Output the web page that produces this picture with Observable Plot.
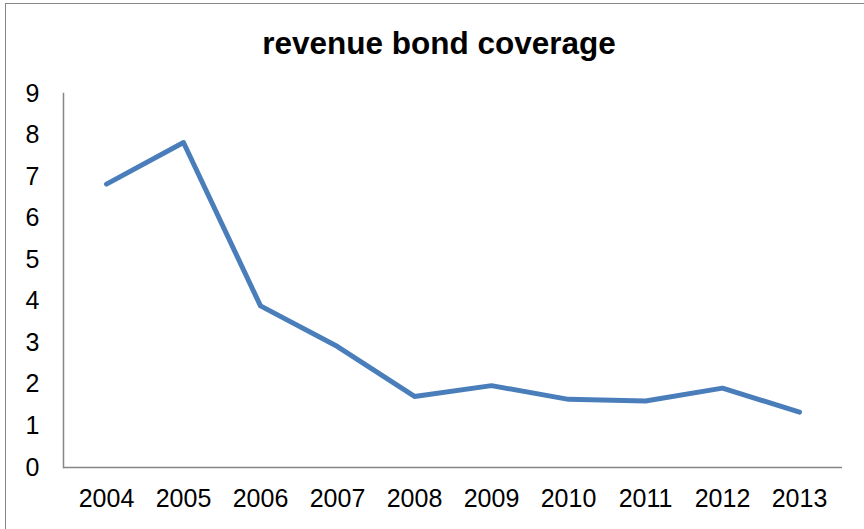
<!DOCTYPE html>
<html>
<head>
<meta charset="utf-8">
<script src="https://cdn.jsdelivr.net/npm/d3@7"></script>
<script src="https://cdn.jsdelivr.net/npm/@observablehq/plot@0.6"></script>
<style>
  html, body { margin: 0; padding: 0; background: #fff; }
  #wrap { position: relative; width: 864px; height: 529px; overflow: hidden; }
  #border { position: absolute; left: 5px; top: 3px; width: 900px; height: 600px;
            border-left: 1.5px solid #868686; border-top: 1.5px solid #868686; box-sizing: border-box; }
  #chart { position: absolute; left: 0; top: 0; }
</style>
</head>
<body>
<div id="wrap"><div id="border"></div><div id="chart"></div></div>
<script>
const title = "revenue bond coverage";
const years = ["2004","2005","2006","2007","2008","2009","2010","2011","2012","2013"];
const coverage = [6.82, 7.82, 3.89, 2.91, 1.71, 1.97, 1.64, 1.60, 1.91, 1.33];
const yTicks = [0,1,2,3,4,5,6,7,8,9];

const data = years.map((year, i) => ({year, value: coverage[i]}));

const chart = Plot.plot({
  width: 864,
  height: 529,
  marginLeft: 63,
  marginRight: 22,
  marginTop: 93,
  marginBottom: 62,
  style: {fontFamily: "'Liberation Sans', Arial, sans-serif", fontSize: "25px", color: "#000", background: "transparent"},
  x: {type: "point", domain: years, padding: 0.5, label: null},
  y: {domain: [0, 9], label: null},
  marks: [
    Plot.axisX({tickSize: 0, tickPadding: 22, fontSize: 25, fill: "#000", label: null}),
    Plot.axisY({ticks: yTicks, tickSize: 0, tickPadding: 24, fontSize: 25, fill: "#000", tickFormat: d3.format("d"), label: null}),
    Plot.frame({anchor: "left", stroke: "#868686", strokeWidth: 1.5}),
    Plot.ruleY([0], {stroke: "#868686", strokeWidth: 1.5}),
    Plot.lineY(data, {x: "year", y: "value", stroke: "#4A7EBB", strokeWidth: 5, strokeLinejoin: "round", strokeLinecap: "round"}),
    Plot.text([title], {frameAnchor: "top", lineAnchor: "bottom", dy: -40, dx: -14, fontSize: 31.5, fontWeight: "bold", fill: "#000"})
  ]
});
document.getElementById("chart").appendChild(chart);
</script>
</body>
</html>
